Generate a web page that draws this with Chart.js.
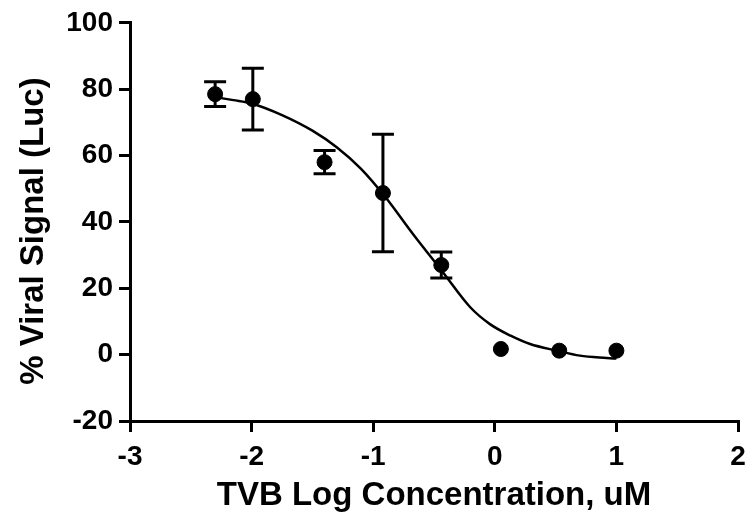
<!DOCTYPE html>
<html>
<head>
<meta charset="utf-8">
<script src="https://cdn.jsdelivr.net/npm/chart.js@4"></script>
<style>
  html, body { margin: 0; padding: 0; background: #fff; }
  #wrap { width: 747px; height: 516px; }
</style>
</head>
<body>
<div id="wrap"><canvas id="dose-chart" width="747" height="516"></canvas></div>
<script>
// measured points (log conc, % signal, error)
const doseX = [-2.3, -1.99, -1.4, -0.92, -0.44, 0.05, 0.53, 1.0];
const signalMean = [78.5, 77.0, 58.0, 48.7, 27.0, 1.7, 1.2, 1.2];
const signalErr = [3.7, 9.3, 3.5, 17.7, 3.9, 0, 0, 0];

// fitted curve
const fitX = [-2.3, -2.15, -2.0, -1.75, -1.5, -1.3, -1.1, -0.9, -0.67, -0.43, -0.2, -0.04, 0.13, 0.29, 0.51, 0.7, 0.92, 1.0];
const fitY = [77.6, 76.7, 75.7, 72.2, 67.5, 62.5, 56.0, 47.5, 36.2, 25.0, 14.2, 9.2, 5.7, 3.2, 1.2, -0.3, -1.0, -1.2];

const xTicks = [-3, -2, -1, 0, 1, 2];
const yTicks = [-20, 0, 20, 40, 60, 80, 100];

const pointData = doseX.map((x, i) => ({ x: x, y: signalMean[i], err: signalErr[i] }));
const fitData = fitX.map((x, i) => ({ x: x, y: fitY[i] }));

// draws the vertical error bars with caps
const errorBars = {
  id: 'errorBars',
  afterDatasetsDraw(chart) {
    const ctx = chart.ctx;
    const xs = chart.scales.x, ys = chart.scales.y;
    ctx.save();
    ctx.strokeStyle = '#000';
    ctx.lineWidth = 3;
    pointData.forEach(p => {
      if (!p.err) return;
      const px = xs.getPixelForValue(p.x);
      const top = ys.getPixelForValue(p.y + p.err);
      const bot = ys.getPixelForValue(p.y - p.err);
      ctx.beginPath();
      ctx.moveTo(px, top); ctx.lineTo(px, bot);
      ctx.moveTo(px - 11, top); ctx.lineTo(px + 11, top);
      ctx.moveTo(px - 11, bot); ctx.lineTo(px + 11, bot);
      ctx.stroke();
    });
    ctx.restore();
  }
};

const tickFont = { family: 'Liberation Sans, Arial, sans-serif', size: 28, weight: 'bold' };
const titleFont = { family: 'Liberation Sans, Arial, sans-serif', size: 33, weight: 'bold' };

const config = {
  type: 'scatter',
  data: {
    datasets: [{
      label: 'Signal',
      data: pointData,
      backgroundColor: '#000',
      borderColor: '#000',
      pointRadius: 7.5,
      pointHoverRadius: 7.5,
      order: 0
    },
    {
      label: 'Fit',
      data: fitData,
      showLine: true,
      borderColor: '#000',
      borderWidth: 2.5,
      pointRadius: 0,
      cubicInterpolationMode: 'monotone',
      order: 1
    }]
  },
  options: {
    responsive: false,
    animation: false,
    layout: { padding: { top: 20, right: 9, left: 0, bottom: 0 } },
    plugins: { legend: { display: false }, tooltip: { enabled: false } },
    scales: {
      x: {
        type: 'linear',
        min: -3,
        max: 2,
        afterBuildTicks: s => { s.ticks = xTicks.map(v => ({ value: v })); },
        afterFit: s => { s.height = 95; s.paddingLeft = 0; s.paddingRight = 0; },
        ticks: { color: '#000', font: tickFont, padding: 8 },
        grid: { drawOnChartArea: false, color: '#000', lineWidth: 3, tickLength: 11 },
        border: { color: '#000', width: 3 },
        title: { display: true, text: 'TVB Log Concentration, uM', color: '#000', font: titleFont, padding: { top: 0, bottom: 0 } }
      },
      y: {
        min: -20,
        max: 100,
        afterBuildTicks: s => { s.ticks = yTicks.map(v => ({ value: v })); },
        afterFit: s => { s.width = 130; },
        ticks: { color: '#000', font: tickFont, padding: 6 },
        grid: { drawOnChartArea: false, color: '#000', lineWidth: 3, tickLength: 11 },
        border: { color: '#000', width: 3 },
        // trailing spaces nudge the rotated title down a bit, like the original
        title: { display: true, text: '% Viral Signal (Luc)  ', color: '#000', font: titleFont, padding: { top: 14, bottom: 0 } }
      }
    }
  },
  plugins: [errorBars]
};

const ctx = document.getElementById('dose-chart').getContext('2d');
const chart = new Chart(ctx, config);
</script>
</body>
</html>
